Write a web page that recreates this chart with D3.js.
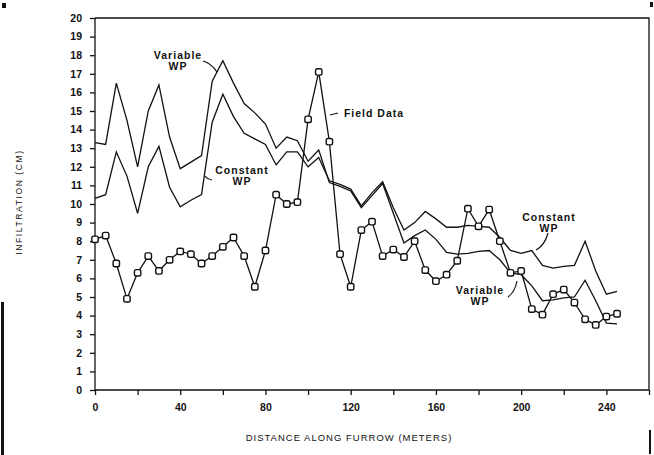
<!DOCTYPE html>
<html>
<head>
<meta charset="utf-8">
<script src="https://cdn.jsdelivr.net/npm/d3@7"></script>
<style>
  body { margin: 0; background: #fff; }
  svg { display: block; }
  text { font-family: "Liberation Sans", Arial, sans-serif; fill: #111; }
  .axis path, .axis line { stroke: #111; stroke-width: 1.3; }
  .axis text { font-size: 10.5px; font-weight: bold; }
</style>
</head>
<body>
<div id="chart"></div>
<script>
// distance along the furrow, every 5 m
let distance = d3.range(0, 250, 5);

// measured infiltration (cm)
let fieldData = [8.1, 8.3, 6.8, 4.9, 6.3, 7.2, 6.4, 7.0, 7.45, 7.3,
  6.8, 7.2, 7.7, 8.2, 7.2, 5.55, 7.5, 10.5, 10.0, 10.1,
  14.55, 17.1, 13.35, 7.3, 5.55, 8.6, 9.05, 7.2, 7.55, 7.15,
  8.0, 6.45, 5.85, 6.2, 6.95, 9.75, 8.8, 9.7, 8.0, 6.3,
  6.4, 4.35, 4.05, 5.15, 5.4, 4.7, 3.8, 3.5, 3.95, 4.1];

// model with variable wetted perimeter
let variableWP = [13.3, 13.2, 16.5, 14.5, 12.0, 15.0, 16.4, 13.6, 11.9, 12.25,
  12.6, 16.6, 17.7, 16.5, 15.4, 14.9, 14.3, 13.0, 13.6, 13.4,
  12.3, 12.9, 11.15, 10.95, 10.7, 9.8, 10.45, 11.1, 9.5, 7.9,
  8.3, 8.6, 8.1, 7.4, 7.3, 7.35, 7.45, 7.5, 7.0, 6.3,
  6.2, 5.6, 4.8, 4.85, 4.95, 5.0, 5.9, 4.8, 3.6, 3.55];

// model with constant wetted perimeter
let constantWP = [10.3, 10.5, 12.8, 11.5, 9.5, 12.0, 13.1, 10.9, 9.85, 10.2,
  10.5, 14.4, 15.9, 14.7, 13.8, 13.5, 13.2, 12.1, 12.8, 12.8,
  12.0, 12.5, 11.25, 11.05, 10.8, 9.9, 10.6, 11.2, 9.8, 8.6,
  9.0, 9.6, 9.2, 8.75, 8.75, 8.85, 8.8, 8.75, 8.2, 7.5,
  7.35, 7.5, 6.7, 6.55, 6.65, 6.7, 8.0, 6.4, 5.15, 5.3];

let xTicks = d3.range(0, 261, 20);
let xLabels = [0, 40, 80, 120, 160, 200, 240];
let yTicks = d3.range(0, 21, 1);

let width = 654;
let height = 455;
let padding = { left: 95, right: 5, top: 18, bottom: 65 };

let svg = d3.select('#chart').append('svg')
  .attr('width', width).attr('height', height);

svg.append('rect').attr('width', width).attr('height', height).attr('fill', '#fff');

let xScale = d3.scaleLinear()
  .domain([0, 260])
  .range([padding.left, width - padding.right]);
let yScale = d3.scaleLinear()
  .domain([0, 20])
  .range([height - padding.bottom, padding.top]);

// frame (top and right edges)
svg.append('path')
  .attr('d', 'M' + xScale(0) + ',' + yScale(20) + 'H' + xScale(260) + 'V' + yScale(0))
  .attr('fill', 'none').attr('stroke', '#111').attr('stroke-width', 1.3);

let xAxis = d3.axisBottom(xScale)
  .tickValues(xTicks)
  .tickSize(5)
  .tickPadding(9)
  .tickFormat(d => xLabels.includes(d) ? d : '');
svg.append('g')
  .attr('class', 'axis')
  .attr('transform', 'translate(0,' + yScale(0) + ')')
  .call(xAxis)
  .call(g => g.select('.domain').attr('d', 'M' + xScale(0) + ',0H' + xScale(260)));

let yAxis = d3.axisLeft(yScale)
  .tickValues(yTicks)
  .tickSize(5)
  .tickPadding(8);
svg.append('g')
  .attr('class', 'axis')
  .attr('transform', 'translate(' + xScale(0) + ',0)')
  .call(yAxis)
  .call(g => g.select('.domain').attr('d', 'M0,' + yScale(0) + 'V' + yScale(20)));

// axis titles
svg.append('text')
  .attr('x', 349).attr('y', 441)
  .attr('text-anchor', 'middle')
  .style('font-size', '9.5px')
  .style('letter-spacing', '1px')
  .text('DISTANCE ALONG FURROW (METERS)');
svg.append('text')
  .attr('transform', 'translate(22,' + 202 + ') rotate(-90)')
  .attr('text-anchor', 'middle')
  .style('font-size', '8.5px')
  .style('letter-spacing', '1.6px')
  .text('INFILTRATION (CM)');

let line = d3.line()
  .x((d, i) => xScale(distance[i]))
  .y(d => yScale(d));

svg.append('path').datum(variableWP)
  .attr('d', line).attr('fill', 'none')
  .attr('stroke', '#111').attr('stroke-width', 1.3);
svg.append('path').datum(constantWP)
  .attr('d', line).attr('fill', 'none')
  .attr('stroke', '#111').attr('stroke-width', 1.3);
svg.append('path').datum(fieldData)
  .attr('d', line).attr('fill', 'none')
  .attr('stroke', '#111').attr('stroke-width', 1.3);

// field data markers
svg.selectAll('.pt')
  .data(fieldData)
  .enter()
  .append('rect')
  .attr('class', 'pt')
  .attr('x', (d, i) => xScale(distance[i]) - 3.2)
  .attr('y', d => yScale(d) - 3.2)
  .attr('width', 6.4).attr('height', 6.4)
  .attr('rx', 1.8)
  .attr('fill', '#fff').attr('stroke', '#111').attr('stroke-width', 1.4);

// labels with leader lines
let labels = [
  { lines: ['Variable', 'WP'], x: 178, y: 59 },
  { lines: ['Field Data'], x: 374, y: 117 },
  { lines: ['Constant', 'WP'], x: 242, y: 174 },
  { lines: ['Constant', 'WP'], x: 549, y: 221 },
  { lines: ['Variable', 'WP'], x: 480, y: 294 }
];
labels.forEach(l => {
  let t = svg.append('text')
    .attr('text-anchor', 'middle')
    .style('font-size', '10.5px')
    .style('font-weight', 'bold')
    .style('letter-spacing', '1px');
  l.lines.forEach((s, k) => {
    t.append('tspan').attr('x', l.x).attr('y', l.y + k * 11).text(s);
  });
});

let leaders = [
  'M203,61 Q211,63 217,72',
  'M330,115 L338,113',
  'M212,180 Q207,179 205,176',
  'M536,250 Q545,245 548,233',
  'M508,297 Q515,292 517,281'
];
svg.selectAll('.leader')
  .data(leaders)
  .enter()
  .append('path')
  .attr('class', 'leader')
  .attr('d', d => d)
  .attr('fill', 'none').attr('stroke', '#111').attr('stroke-width', 1.2);

// scan marks on the page edges
svg.append('rect').attr('x', 1).attr('y', 302).attr('width', 3).attr('height', 153).attr('fill', '#111');
svg.append('rect').attr('x', 649).attr('y', 430).attr('width', 2).attr('height', 24).attr('fill', '#111');
svg.append('rect').attr('x', 2).attr('y', 3).attr('width', 4).attr('height', 5).attr('fill', '#111');
svg.append('rect').attr('x', 650).attr('y', 2).attr('width', 3).attr('height', 5).attr('fill', '#111');
</script>
</body>
</html>
